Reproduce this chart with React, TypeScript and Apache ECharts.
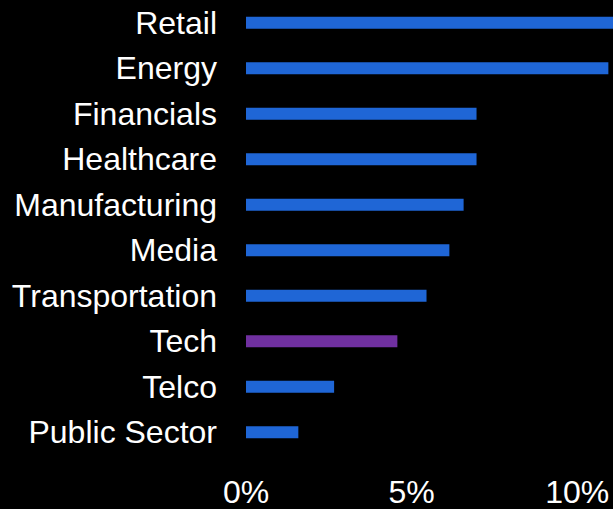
import React, { useEffect, useRef } from "react";
import * as echarts from "echarts";

const categories = [
  "Retail",
  "Energy",
  "Financials",
  "Healthcare",
  "Manufacturing",
  "Media",
  "Transportation",
  "Tech",
  "Telco",
  "Public Sector",
];
const values = [11.6, 10.94, 6.96, 6.96, 6.57, 6.14, 5.45, 4.57, 2.66, 1.58];
const highlighted = "Tech";
const xTicks = [0, 5, 10];

const BLUE = "#1F66D6";
const PURPLE = "#7030A0";
const FONT = "'Liberation Sans', Arial, sans-serif";

export default function App() {
  const ref = useRef<HTMLDivElement>(null);
  useEffect(() => {
    if (!ref.current) return;
    const chart = echarts.init(ref.current, null, { renderer: "svg" });
    chart.setOption({
      animation: false,
      backgroundColor: "#000000",
      grid: { left: 246, top: 0, bottom: 54, right: 0, containLabel: false },
      xAxis: {
        type: "value",
        min: 0,
        max: 11.08,
        interval: 5,
        axisLine: { show: false },
        axisTick: { show: false },
        splitLine: { show: false },
        axisLabel: {
          color: "#ffffff",
          fontSize: 32,
          fontFamily: FONT,
          margin: 21,
          showMaxLabel: false,
          formatter: (v: number) => (xTicks.includes(v) ? `${v}%` : ""),
        },
      },
      yAxis: {
        type: "category",
        inverse: true,
        data: categories,
        axisLine: { show: false },
        axisTick: { show: false },
        splitLine: { show: false },
        axisLabel: {
          color: "#ffffff",
          fontSize: 32,
          fontFamily: FONT,
          margin: 29,
        },
      },
      series: [
        {
          type: "bar",
          barWidth: 12,
          data: values.map((v, i) => ({
            value: v,
            itemStyle: { color: categories[i] === highlighted ? PURPLE : BLUE },
          })),
        },
      ],
    });
    return () => chart.dispose();
  }, []);
  return (
    <div
      ref={ref}
      style={{ position: "fixed", left: 0, top: 0, width: 613, height: 509 }}
    />
  );
}
